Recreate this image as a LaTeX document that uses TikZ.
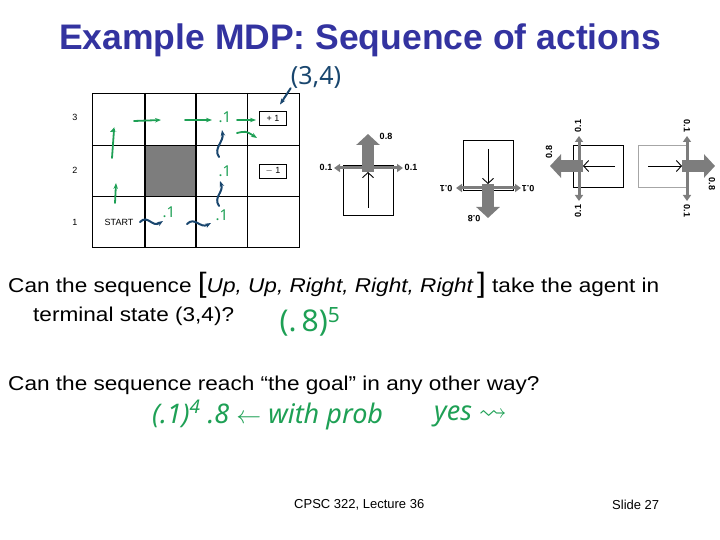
\documentclass[tikz,border=0pt]{standalone}
\usepackage{amssymb}
\usepackage{fontspec}
\setmainfont{Liberation Sans}
\newfontfamily\handfont{Noto Sans}
\newfontfamily\breitfont[FakeStretch=1.13]{Liberation Sans}
\usetikzlibrary{arrows.meta,positioning}
\definecolor{titelblau}{RGB}{51,51,160}
\definecolor{stiftgruen}{RGB}{30,160,85}
\definecolor{stiftblau}{RGB}{25,70,110}
\definecolor{pfeilgrau}{RGB}{125,125,125}
\begin{document}
\begin{tikzpicture}[x=1pt,y=-1pt,
      zelle/.style={draw,line width=0.8pt},
      feld/.style={draw,line width=0.9pt,inner sep=1.5pt,minimum width=27pt,
        minimum height=14pt,font=\fontsize{9}{10}\selectfont},
      kasten/.style={draw,line width=0.7pt,minimum width=50pt,minimum height=50pt},
      fett/.style={pfeilgrau,line width=12pt,-{Triangle[width=23pt,length=11pt]}},
      duenn/.style={pfeilgrau,line width=3pt,-{Triangle[width=8pt,length=6pt]}},
      zeiger/.style={line width=0.9pt,-{Straight Barb[length=5pt,width=11pt]}},
      prob/.style={font=\fontsize{9}{10}\selectfont\bfseries,inner sep=1pt},
      body/.style={anchor=base west,inner sep=0pt,font=\breitfont\fontsize{20}{22}\selectfont},
      hand/.style={font=\handfont\fontsize{27}{27}\selectfont\itshape,inner sep=0pt},
      notiz/.style={stiftgruen,font=\handfont\fontsize{15}{15}\selectfont\bfseries},
      gruen/.style={stiftgruen,line width=1.8pt,line cap=round,-{Stealth[length=6pt]}},
      blau/.style={stiftblau,line width=2pt,line cap=round,-{Stealth[length=6pt]}}]
    \useasboundingbox (0,0) rectangle (720,540);

    % Titel
    \node[titelblau,font=\fontsize{35.5}{38}\selectfont\bfseries] (titel) at (360,40)
      {Example MDP: Sequence of actions};

    % Gitter 4x3
    \fill[pfeilgrau] (145,145) rectangle (196,196);
    \draw[zelle] (92,93) rectangle (299,247);
    \draw[zelle] (92,145) -- (299,145);
    \draw[zelle] (92,196) -- (299,196);
    \draw[zelle] (247,93) -- (247,247);
    \draw[line width=1.6pt] (145,93) -- (145,247);
    \draw[line width=1.6pt] (196,93) -- (196,247);
    \node[font=\fontsize{9}{10}\selectfont] (r3) at (75,117) {3};
    \node[font=\fontsize{9}{10}\selectfont] (r2) at (75,170) {2};
    \node[font=\fontsize{9}{10}\selectfont] (r1) at (75,222) {1};
    \node[font=\fontsize{9}{10}\selectfont] (start) at (119,222) {START};
    \node[feld] (plus) at (273,118) {+ 1};
    \node[feld] (minus) at (273,171) {$-$ 1};

    % Handnotizen im Gitter
    \draw[gruen] (134,121) -- (161,120);
    \draw[gruen] (185,120) -- (212,120);
    \node[notiz] (p1) at (225,117) {.1};
    \draw[gruen] (237,120) -- (256,120);
    \draw[gruen] (237,133) .. controls (246,131) .. (257,138);
    \draw[gruen] (112,158) -- (114,130) -- (110,132);
    \draw[gruen] (115,203) -- (116,183);
    \draw[blau] (219,157) .. controls (213,148) and (224,142) .. (222,130);
    \node[notiz] (p2) at (225,171) {.1};
    \draw[blau] (219,206) .. controls (213,197) and (224,192) .. (220,181);
    \draw[blau] (140,222) .. controls (148,214) and (152,228) .. (163,221);
    \node[notiz] (p3) at (169,212) {.1};
    \draw[blau] (187,224) .. controls (195,216) and (200,229) .. (211,223);
    \node[notiz] (p4) at (222,215) {.1};
    \node[stiftblau,hand,font=\handfont\fontsize{25}{25}\selectfont] (ziel) at (316,77) {(3,4)};
    \draw[blau] (ziel.south west) -- ([xshift=7pt,yshift=6pt]plus.north);

    % Uebergaenge: hoch
    \node[kasten] (k1) at (368,190) {};
    \coordinate (m1) at (368,168);
    \draw[zeiger] (368,208) -- (368,172);
    \draw[duenn] (m1) -- (334,168);
    \draw[duenn] (m1) -- (403,168);
    \draw[fett] (368,172) -- (368,134);
    \node[prob] (a1) at (386,136) {0.8};
    \node[prob] (b1) at (326,167) {0.1};
    \node[prob] (c1) at (411,167) {0.1};

    % runter
    \node[kasten] (k2) at (488,165) {};
    \coordinate (m2) at (488,188);
    \draw[zeiger] (488,149) -- (488,184);
    \draw[duenn] (m2) -- (456,188);
    \draw[duenn] (m2) -- (521,188);
    \draw[fett] (488,184) -- (488,218);
    \node[prob,rotate=180] (a2) at (474,219) {0.8};
    \node[prob,rotate=180] (b2) at (446,189) {0.1};
    \node[prob,rotate=180] (c2) at (528,189) {0.1};

    % links
    \node[kasten,minimum height=42pt] (k3) at (598,166) {};
    \coordinate (m3) at (579,166);
    \draw[zeiger] (615,166) -- (583,166);
    \draw[duenn] (m3) -- (579,136);
    \draw[duenn] (m3) -- (579,201);
    \draw[fett] (583,166) -- (550,166);
    \node[prob,rotate=90] (a3) at (549,152) {0.8};
    \node[prob,rotate=90] (b3) at (578,126) {0.1};
    \node[prob,rotate=90] (c3) at (578,211) {0.1};

    % rechts
    \node[kasten,minimum height=42pt,draw=black!35] (k4) at (663,166) {};
    \draw[line width=0.7pt] (k4.north east) -- (k4.south east);
    \coordinate (m4) at (687,166);
    \draw[zeiger] (648,166) -- (682,166);
    \draw[duenn] (m4) -- (687,136);
    \draw[duenn] (m4) -- (687,201);
    \draw[fett] (682,166) -- (715,166);
    \node[prob,rotate=-90] (a4) at (712,184) {0.8};
    \node[prob,rotate=-90] (b4) at (687,126) {0.1};
    \node[prob,rotate=-90] (c4) at (687,211) {0.1};

    % Fragen
    \node[body] (q1) at (8,292) {Can the sequence {\fontsize{28}{28}\selectfont[}\textit{Up, Up, Right, Right, Right}\,{\fontsize{28}{28}\selectfont]} take the agent in};
    \node[body] (q1b) at (33,321) {terminal state (3,4)?};
    \node[body] (q2) at (8,390) {Can the sequence reach \textquotedblleft the goal\textquotedblright\ in any other way?};
    \node[stiftgruen,hand,font=\handfont\fontsize{30}{30}\selectfont] (w1) at (310,322) {(.\,8)\textsuperscript{5}};
    \node[stiftgruen,hand,anchor=west] (w2) at (152,415) {(.1)\textsuperscript{4} .8 {\fontsize{30}{30}\selectfont$\leftarrow$} with prob};
    \node[stiftgruen,hand,anchor=west] (w3) at (434,416) {yes {\fontsize{28}{28}\selectfont$\rightsquigarrow$}};

    % Fusszeile
    \node[font=\fontsize{13}{15}\selectfont,anchor=west,inner sep=0pt] (fuss) at (294,505) {CPSC 322, Lecture 36};
    \node[font=\fontsize{13}{15}\selectfont,anchor=west,inner sep=0pt] (seite) at (612,505) {Slide 27};
  \end{tikzpicture}
\end{document}
